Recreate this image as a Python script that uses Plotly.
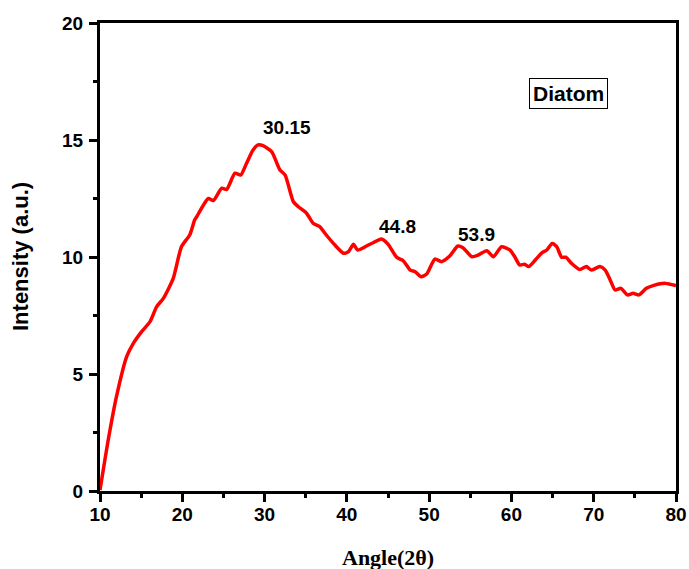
import plotly.graph_objects as go

angle = [10.0, 11.0, 12.0, 13.24, 14.05, 15.06, 16.08, 16.89, 17.7, 18.9, 19.9, 20.9, 21.5, 21.75,
         23.16, 23.77, 24.8, 25.4, 26.4, 27.1, 27.8, 28.6, 29.2, 29.8, 30.86, 31.87, 32.5, 33.5,
         34.1, 35.1, 35.9, 36.7, 37.5, 38.55, 39.6, 40.2, 40.8, 41.3, 42.4, 43.2, 44.2, 45.0,
         46.05, 46.85, 47.7, 48.3, 49.0, 49.7, 50.7, 51.5, 52.5, 53.5, 54.1, 55.2, 56.0, 57.0,
         57.8, 58.8, 59.8, 60.4, 61.0, 61.6, 62.1, 62.9, 63.7, 64.3, 64.95, 65.5, 66.1, 66.6,
         67.3, 68.3, 69.1, 69.7, 70.75, 71.4, 72.0, 72.6, 73.3, 74.1, 74.8, 75.5, 76.4, 77.4,
         78.6, 79.7, 80.0]
intensity = [0.04, 2.18, 4.03, 5.74, 6.31, 6.81, 7.24, 7.88, 8.23, 9.09, 10.44, 10.94, 11.58, 11.72,
             12.5, 12.41, 12.94, 12.89, 13.58, 13.5, 14.0, 14.57, 14.79, 14.76, 14.5, 13.72, 13.5, 12.36,
             12.15, 11.87, 11.44, 11.3, 10.94, 10.51, 10.16, 10.23, 10.54, 10.3, 10.47, 10.61, 10.77, 10.55,
             9.99, 9.84, 9.44, 9.37, 9.16, 9.27, 9.91, 9.8, 10.04, 10.47, 10.4, 10.01, 10.09, 10.27,
             10.01, 10.44, 10.3, 10.01, 9.66, 9.69, 9.59, 9.87, 10.18, 10.3, 10.58, 10.44, 9.99, 9.99,
             9.73, 9.47, 9.59, 9.44, 9.59, 9.44, 9.02, 8.59, 8.66, 8.38, 8.45, 8.38, 8.66, 8.8,
             8.88, 8.8, 8.78]

peak_labels = ["30.15", "44.8", "53.9"]
peak_x = [32.7, 46.2, 55.8]
peak_y = [15.55, 11.3, 10.98]

x_ticks = [10, 20, 30, 40, 50, 60, 70, 80]
y_ticks = [0, 5, 10, 15, 20]

SANS = "Liberation Sans, Arial"
SERIF = "Liberation Serif, Times New Roman"

fig = go.Figure()
fig.add_trace(go.Scatter(x=angle, y=intensity, mode="lines",
                         line=dict(color="#ff0000", width=3.5, shape="spline", smoothing=0.6),
                         showlegend=False, hoverinfo="skip"))

for t, x, y in zip(peak_labels, peak_x, peak_y):
    fig.add_annotation(x=x, y=y, text=t, showarrow=False,
                       font=dict(family=SANS, size=19, color="black", weight="bold"))

fig.add_annotation(x=66.9, y=17.0, text="Diatom", showarrow=False,
                   font=dict(family=SANS, size=21, color="black", weight="bold"),
                   bordercolor="black", borderwidth=1, borderpad=3, bgcolor="white")

# axis titles
fig.add_annotation(xref="paper", yref="paper", x=0.5, y=0, yanchor="middle", yshift=-66,
                   text="Angle(2θ)", showarrow=False,
                   font=dict(family=SERIF, size=22, color="black", weight="bold"))
fig.add_annotation(xref="paper", yref="paper", x=0, y=0.5, xanchor="center", xshift=-80,
                   textangle=-90, text="Intensity (a.u.)", showarrow=False,
                   font=dict(family=SANS, size=22, color="black", weight="bold"))

axis_font = dict(family=SANS, size=19, color="black", weight="bold")

fig.update_layout(
    width=689, height=569,
    margin=dict(l=100, r=13, t=23, b=78, autoexpand=False),
    plot_bgcolor="white", paper_bgcolor="white",
    xaxis=dict(range=[10, 80], tickvals=x_ticks, ticktext=[str(v) for v in x_ticks],
               showgrid=False, zeroline=False, automargin=False,
               showline=True, linecolor="black", linewidth=3, mirror=True,
               ticks="outside", ticklen=8, tickwidth=2.5, tickcolor="black",
               minor=dict(dtick=5, ticks="outside", ticklen=4, tickwidth=2.5, tickcolor="black"),
               tickfont=axis_font, ticklabelstandoff=-4),
    yaxis=dict(range=[0, 20], tickvals=y_ticks, ticktext=[str(v) for v in y_ticks],
               showgrid=False, zeroline=False, automargin=False,
               showline=True, linecolor="black", linewidth=3, mirror=True,
               ticks="outside", ticklen=8, tickwidth=2.5, tickcolor="black",
               minor=dict(dtick=2.5, ticks="outside", ticklen=4, tickwidth=2.5, tickcolor="black"),
               tickfont=axis_font, ticklabelstandoff=2),
)

fig.write_html("out.html")
